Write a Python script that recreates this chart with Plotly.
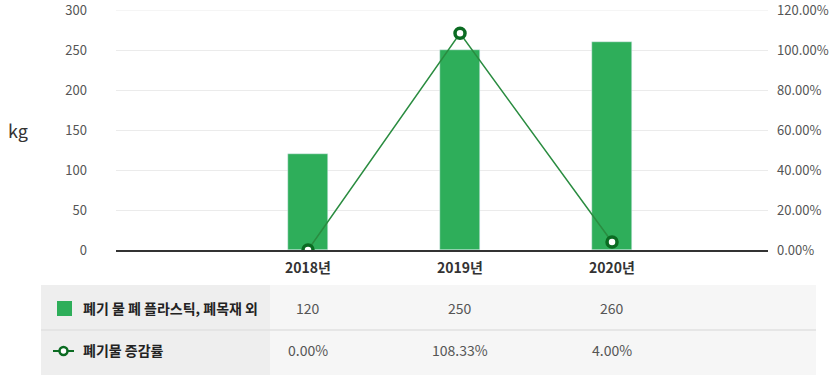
import plotly.graph_objects as go

years = ["2018년", "2019년", "2020년"]
waste_kg = [120, 250, 260]
rate_pct = [0.00, 108.33, 4.00]
bar_name = "폐기 물 폐 플라스틱, 폐목재 외"
line_name = "폐기물 증감률"
unit_label = "kg"

FONT = "Noto Sans CJK KR, Noto Sans, sans-serif"
W, H = 840, 380
L, R, T, B = 116, 72, 10, 130
PW, PH = W - L - R, H - T - B

def px(x):
    return (x - L) / PW

def py(y):
    return (H - B - y) / PH

BAR = "#2eae5a"
DARK = "#0b6b22"
LINE = "#2a8c40"
Y_MAX = 300

fig = go.Figure()
fig.add_trace(go.Bar(x=years, y=waste_kg, name=bar_name, marker_color=BAR,
                     width=0.263, yaxis="y"))
fig.add_trace(go.Scatter(x=years, y=rate_pct, name=line_name, yaxis="y2",
                         mode="lines+markers",
                         line=dict(color=LINE, width=1.5),
                         marker=dict(size=10, color="white",
                                     line=dict(color=DARK, width=3.5))))

fig.update_layout(
    width=W, height=H,
    margin=dict(l=L, r=R, t=T, b=B, autoexpand=False),
    paper_bgcolor="white", plot_bgcolor="white",
    showlegend=False,
    font=dict(family=FONT, color="#555", size=13),
    xaxis=dict(type="category", range=[-1.263, 3.026], showline=True,
               linecolor="#333", linewidth=2, showgrid=False,
               ticks="", tickfont=dict(size=14, color="#333", family=FONT, weight="bold"),
               ticklabelstandoff=4, fixedrange=True),
    yaxis=dict(range=[0, Y_MAX], dtick=50, showgrid=True, gridcolor="#ebebeb",
               zeroline=False, ticks="", ticklabelstandoff=28,
               ticklabeloverflow="allow",
               tickfont=dict(size=13, color="#555", family=FONT)),
    yaxis2=dict(range=[0, 120], dtick=20, overlaying="y", side="right",
                showgrid=False, zeroline=False, tickformat=".2f", ticksuffix="%",
                ticks="", ticklabelstandoff=8, ticklabeloverflow="allow",
                tickfont=dict(size=13, color="#555", family=FONT)),
    bargap=0,
)

shapes = []
shapes.append(dict(type="line", xref="paper", yref="y", x0=0, x1=1,
                   y0=Y_MAX, y1=Y_MAX, line=dict(color="#ebebeb", width=1),
                   layer="below"))
shapes.append(dict(type="rect", xref="paper", yref="paper",
                   x0=px(41), x1=px(270), y0=py(375), y1=py(285),
                   fillcolor="#eeeeee", line=dict(width=0), layer="below"))
shapes.append(dict(type="rect", xref="paper", yref="paper",
                   x0=px(270), x1=px(816), y0=py(375), y1=py(285),
                   fillcolor="#f6f6f6", line=dict(width=0), layer="below"))
shapes.append(dict(type="line", xref="paper", yref="paper",
                   x0=px(41), x1=px(816), y0=py(330), y1=py(330),
                   line=dict(color="#e0e0e0", width=1.5)))
shapes.append(dict(type="rect", xref="paper", yref="paper",
                   x0=px(57), x1=px(72), y0=py(316), y1=py(301),
                   fillcolor=BAR, line=dict(width=0)))
shapes.append(dict(type="line", xref="paper", yref="paper",
                   x0=px(53), x1=px(74), y0=py(351), y1=py(351),
                   line=dict(color=DARK, width=2)))
shapes.append(dict(type="circle", xref="paper", yref="paper",
                   x0=px(59.5), x1=px(67.5), y0=py(355), y1=py(347),
                   fillcolor="white", line=dict(color=DARK, width=2.5)))

annotations = [
    dict(text=unit_label, xref="paper", yref="paper", x=px(18), y=py(130),
         xanchor="center", yanchor="middle", showarrow=False,
         font=dict(size=18, color="#333", family=FONT)),
    dict(text=bar_name, xref="paper", yref="paper", x=px(81), y=py(308),
         xanchor="left", yanchor="middle", showarrow=False,
         font=dict(size=14, color="#222", family=FONT, weight="bold")),
    dict(text=line_name, xref="paper", yref="paper", x=px(81), y=py(350),
         xanchor="left", yanchor="middle", showarrow=False,
         font=dict(size=14, color="#222", family=FONT, weight="bold")),
]
for yr, v in zip(years, waste_kg):
    annotations.append(dict(text=f"{v}", xref="x", yref="paper", x=yr, y=py(308),
                            xanchor="center", yanchor="middle", showarrow=False,
                            font=dict(size=14, color="#555", family=FONT)))
for yr, v in zip(years, rate_pct):
    annotations.append(dict(text=f"{v:.2f}%", xref="x", yref="paper", x=yr, y=py(350),
                            xanchor="center", yanchor="middle", showarrow=False,
                            font=dict(size=14, color="#555", family=FONT)))

fig.update_layout(shapes=shapes, annotations=annotations)
fig.write_html("out.html", config={"displayModeBar": False},
               post_script="document.body.style.margin='0';document.body.style.overflow='hidden';")
